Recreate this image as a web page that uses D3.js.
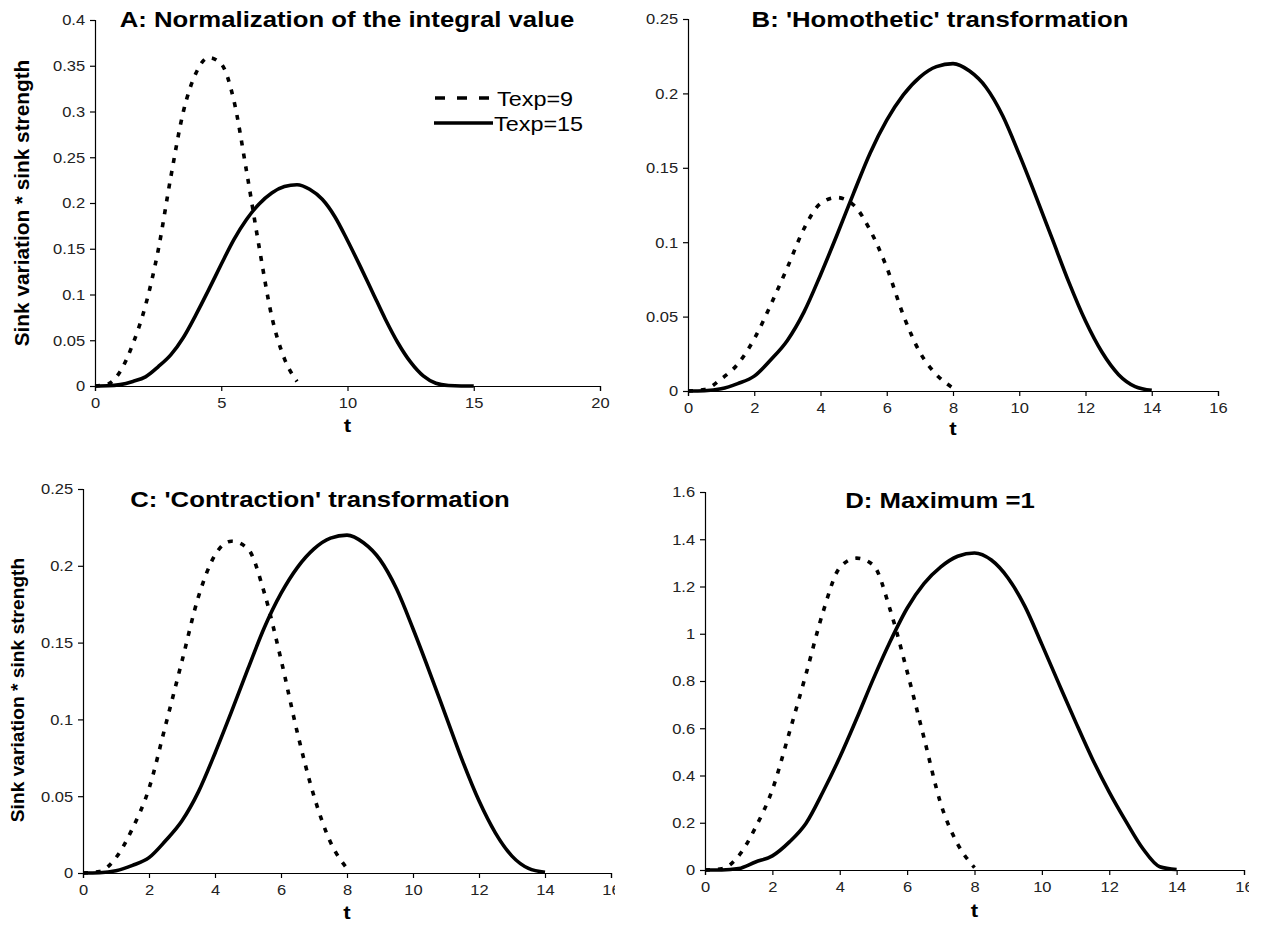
<!DOCTYPE html>
<html>
<head>
<meta charset="utf-8">
<script src="https://cdn.jsdelivr.net/npm/d3@7"></script>
<style>
  html, body { margin: 0; padding: 0; background: #ffffff; }
  svg { display: block; }
  text { font-family: "Liberation Sans", Arial, sans-serif; }
</style>
</head>
<body>
<svg id="chart" width="1273" height="926"></svg>
<script>
// ---------------- DATA ----------------
const tValues = [0, 0.5, 1, 1.5, 2, 2.5, 3, 3.5, 4, 4.5, 5, 5.5, 6, 6.5, 7, 7.5, 8,
                 8.5, 9, 9.5, 10, 10.5, 11, 11.5, 12, 12.5, 13, 13.5, 14, 14.5, 15];

const seriesNames = ["Texp=9", "Texp=15"];

// Panel A: normalization of the integral value
const aTexp9  = [0, 0.002, 0.016, 0.046, 0.088, 0.148, 0.228, 0.300, 0.342, 0.359, 0.352, 0.312, 0.235, 0.152, 0.076, 0.030, 0.005,
                 null, null, null, null, null, null, null, null, null, null, null, null, null, null];
const aTexp15 = [0, 0.0002, 0.0015, 0.005, 0.010, 0.021, 0.034, 0.053, 0.078, 0.105, 0.133, 0.160, 0.182, 0.199, 0.211, 0.218, 0.220,
                 0.215, 0.204, 0.185, 0.159, 0.131, 0.102, 0.073, 0.047, 0.026, 0.011, 0.003, 0.0005, 0, 0];

// Panel B: 'Homothetic' transformation
const bTexp9  = [0, 0.001, 0.008, 0.018, 0.035, 0.058, 0.083, 0.109, 0.126, 0.130, 0.125, 0.108, 0.083, 0.051, 0.026, 0.011, 0.002,
                 null, null, null, null, null, null, null, null, null, null, null, null, null, null];
const bTexp15 = [0, 0.0002, 0.0015, 0.005, 0.010, 0.021, 0.034, 0.053, 0.078, 0.105, 0.133, 0.160, 0.182, 0.199, 0.211, 0.218, 0.220,
                 0.215, 0.204, 0.185, 0.159, 0.131, 0.102, 0.073, 0.047, 0.026, 0.011, 0.003, 0.0005, null, null];

// Panel C: 'Contraction' transformation
const cTexp9  = [0, 0.001, 0.010, 0.029, 0.055, 0.096, 0.138, 0.180, 0.207, 0.216, 0.211, 0.182, 0.139, 0.091, 0.050, 0.020, 0.003,
                 null, null, null, null, null, null, null, null, null, null, null, null, null, null];
const cTexp15 = [0, 0.0002, 0.0015, 0.005, 0.010, 0.021, 0.034, 0.053, 0.078, 0.105, 0.133, 0.160, 0.182, 0.199, 0.211, 0.218, 0.220,
                 0.215, 0.204, 0.185, 0.159, 0.131, 0.102, 0.073, 0.047, 0.026, 0.011, 0.003, 0.0005, null, null];

// Panel D: Maximum = 1
const dTexp9  = [0, 0.005, 0.06, 0.18, 0.34, 0.58, 0.83, 1.09, 1.28, 1.32, 1.29, 1.10, 0.84, 0.56, 0.28, 0.11, 0.01,
                 null, null, null, null, null, null, null, null, null, null, null, null, null, null];
const dTexp15 = [0, 0, 0.006, 0.034, 0.060, 0.118, 0.198, 0.330, 0.477, 0.640, 0.810, 0.968, 1.108, 1.212, 1.283, 1.328, 1.342,
                 1.312, 1.235, 1.115, 0.955, 0.790, 0.627, 0.470, 0.330, 0.205, 0.090, 0.014, 0.002, null, null];

// tick values / labels
const xTicksA = [0, 5, 10, 15, 20];
const xTicksBCD = [0, 2, 4, 6, 8, 10, 12, 14, 16];
const yTicksA = [0, 0.05, 0.1, 0.15, 0.2, 0.25, 0.3, 0.35, 0.4];
const yLabelsA = ["0", "0.05", "0.1", "0.15", "0.2", "0.25", "0.3", "0.35", "0.4"];
const yTicksBC = [0, 0.05, 0.1, 0.15, 0.2, 0.25];
const yLabelsBC = ["0", "0.05", "0.1", "0.15", "0.2", "0.25"];
const yTicksD = [0, 0.2, 0.4, 0.6, 0.8, 1, 1.2, 1.4, 1.6];
const yLabelsD = ["0", "0.2", "0.4", "0.6", "0.8", "1", "1.2", "1.4", "1.6"];

const titles = ["A: Normalization of the integral value", "B: 'Homothetic' transformation",
                "C: 'Contraction' transformation", "D: Maximum =1"];
const yAxisTitle = "Sink variation * sink strength";
const xAxisTitle = "t";

// ---------------- LAYOUT ----------------
const SX = 1.17;   // horizontal stretch of the original figure's bold text
const SXT = 1.1;   // stretch of tick labels
const svg = d3.select("#chart");

const panels = [
  { title: titles[0], s9: aTexp9, s15: aTexp15, xMax: 20, xTicks: xTicksA, yMax: 0.4, yTicks: yTicksA, yLabels: yLabelsA,
    left: 95, right: 600, top: 20, bottom: 386, titleX: 347, titleY: 27, titleSize: 22,
    yTitle: true, yTitleX: 29, yTitleY: 203, yTitleSize: 20.8, tY: 432, clipRight: 1273, legend: true },
  { title: titles[1], s9: bTexp9, s15: bTexp15, xMax: 16, xTicks: xTicksBCD, yMax: 0.25, yTicks: yTicksBC, yLabels: yLabelsBC,
    left: 688, right: 1218, top: 19, bottom: 391, titleX: 940, titleY: 27, titleSize: 22,
    yTitle: false, tY: 435, clipRight: 1273, legend: false },
  { title: titles[2], s9: cTexp9, s15: cTexp15, xMax: 16, xTicks: xTicksBCD, yMax: 0.25, yTicks: yTicksBC, yLabels: yLabelsBC,
    left: 83, right: 611, top: 489, bottom: 873, titleX: 320, titleY: 507, titleSize: 22,
    yTitle: true, yTitleX: 24, yTitleY: 690, yTitleSize: 19.2, tY: 919, clipRight: 615, legend: false },
  { title: titles[3], s9: dTexp9, s15: dTexp15, xMax: 16, xTicks: xTicksBCD, yMax: 1.6, yTicks: yTicksD, yLabels: yLabelsD,
    left: 705, right: 1244, top: 492, bottom: 870, titleX: 940, titleY: 508, titleSize: 22,
    yTitle: false, tY: 917, clipRight: 1249, legend: false }
];

panels.forEach((p, i) => {
  const clipId = "clip" + i;
  svg.append("clipPath").attr("id", clipId)
    .append("rect").attr("x", 0).attr("y", 0).attr("width", p.clipRight).attr("height", 926);

  const g = svg.append("g").attr("clip-path", `url(#${clipId})`);

  const x = d3.scaleLinear().domain([0, p.xMax]).range([p.left, p.right]);
  const y = d3.scaleLinear().domain([0, p.yMax]).range([p.bottom, p.top]);

  // x axis
  const xAxis = d3.axisBottom(x).tickValues(p.xTicks).tickSize(5).tickPadding(6).tickFormat(d3.format("d"));
  const gx = g.append("g").attr("transform", `translate(0,${p.bottom})`).call(xAxis);
  // y axis
  const yAxis = d3.axisLeft(y).tickValues(p.yTicks).tickSize(5).tickPadding(4)
    .tickFormat((d, k) => p.yLabels[k]);
  const gy = g.append("g").attr("transform", `translate(${p.left},0)`).call(yAxis);

  [gx, gy].forEach(ax => {
    ax.select(".domain").attr("stroke", "#000").attr("stroke-width", 1.2);
    ax.selectAll(".tick line").attr("stroke", "#000").attr("stroke-width", 1.2);
    ax.selectAll(".tick text")
      .attr("fill", "#222")
      .style("font-family", "'Liberation Sans', Arial, sans-serif")
      .style("font-size", "15px")
      .attr("transform", `scale(${SXT},1)`);
  });
  gx.selectAll(".tick text").attr("x", 0);

  // lines
  const line = d3.line()
    .defined(d => d[1] !== null)
    .x(d => x(d[0]))
    .y(d => y(d[1]))
    .curve(d3.curveMonotoneX);

  const d15 = tValues.map((t, k) => [t, p.s15[k]]);
  const d9 = tValues.map((t, k) => [t, p.s9[k]]);

  g.append("path").datum(d15).attr("d", line)
    .attr("fill", "none").attr("stroke", "#000").attr("stroke-width", 3.6)
    .attr("stroke-linejoin", "round");
  g.append("path").datum(d9).attr("d", line)
    .attr("fill", "none").attr("stroke", "#000").attr("stroke-width", 3.6)
    .attr("stroke-dasharray", "5,8");

  // title
  g.append("text")
    .attr("transform", `translate(${p.titleX},${p.titleY}) scale(${SX},1)`)
    .attr("text-anchor", "middle")
    .style("font-weight", "bold").style("font-size", p.titleSize + "px")
    .attr("fill", "#000")
    .text(p.title);

  // x axis title
  g.append("text")
    .attr("transform", `translate(${(p.left + p.right) / 2},${p.tY}) scale(${SX},1)`)
    .attr("text-anchor", "middle")
    .style("font-weight", "bold").style("font-size", "19px")
    .attr("fill", "#000")
    .text(xAxisTitle);

  // y axis title
  if (p.yTitle) {
    g.append("text")
      .attr("transform", `translate(${p.yTitleX},${p.yTitleY}) rotate(-90)`)
      .attr("text-anchor", "middle")
      .style("font-weight", "bold").style("font-size", p.yTitleSize + "px")
      .attr("fill", "#000")
      .text(yAxisTitle);
  }

  // legend
  if (p.legend) {
    const lg = g.append("g");
    lg.append("line").attr("x1", 435).attr("x2", 490).attr("y1", 98).attr("y2", 98)
      .attr("stroke", "#000").attr("stroke-width", 3.6).attr("stroke-dasharray", "10,12");
    lg.append("text")
      .attr("transform", `translate(497,105.5) scale(${SX},1)`)
      .style("font-size", "20px").attr("fill", "#000").text(seriesNames[0]);
    lg.append("line").attr("x1", 434).attr("x2", 493).attr("y1", 123).attr("y2", 123)
      .attr("stroke", "#000").attr("stroke-width", 3.6);
    lg.append("text")
      .attr("transform", `translate(494,130.5) scale(${SX},1)`)
      .style("font-size", "20px").attr("fill", "#000").text(seriesNames[1]);
  }
});
</script>
</body>
</html>
